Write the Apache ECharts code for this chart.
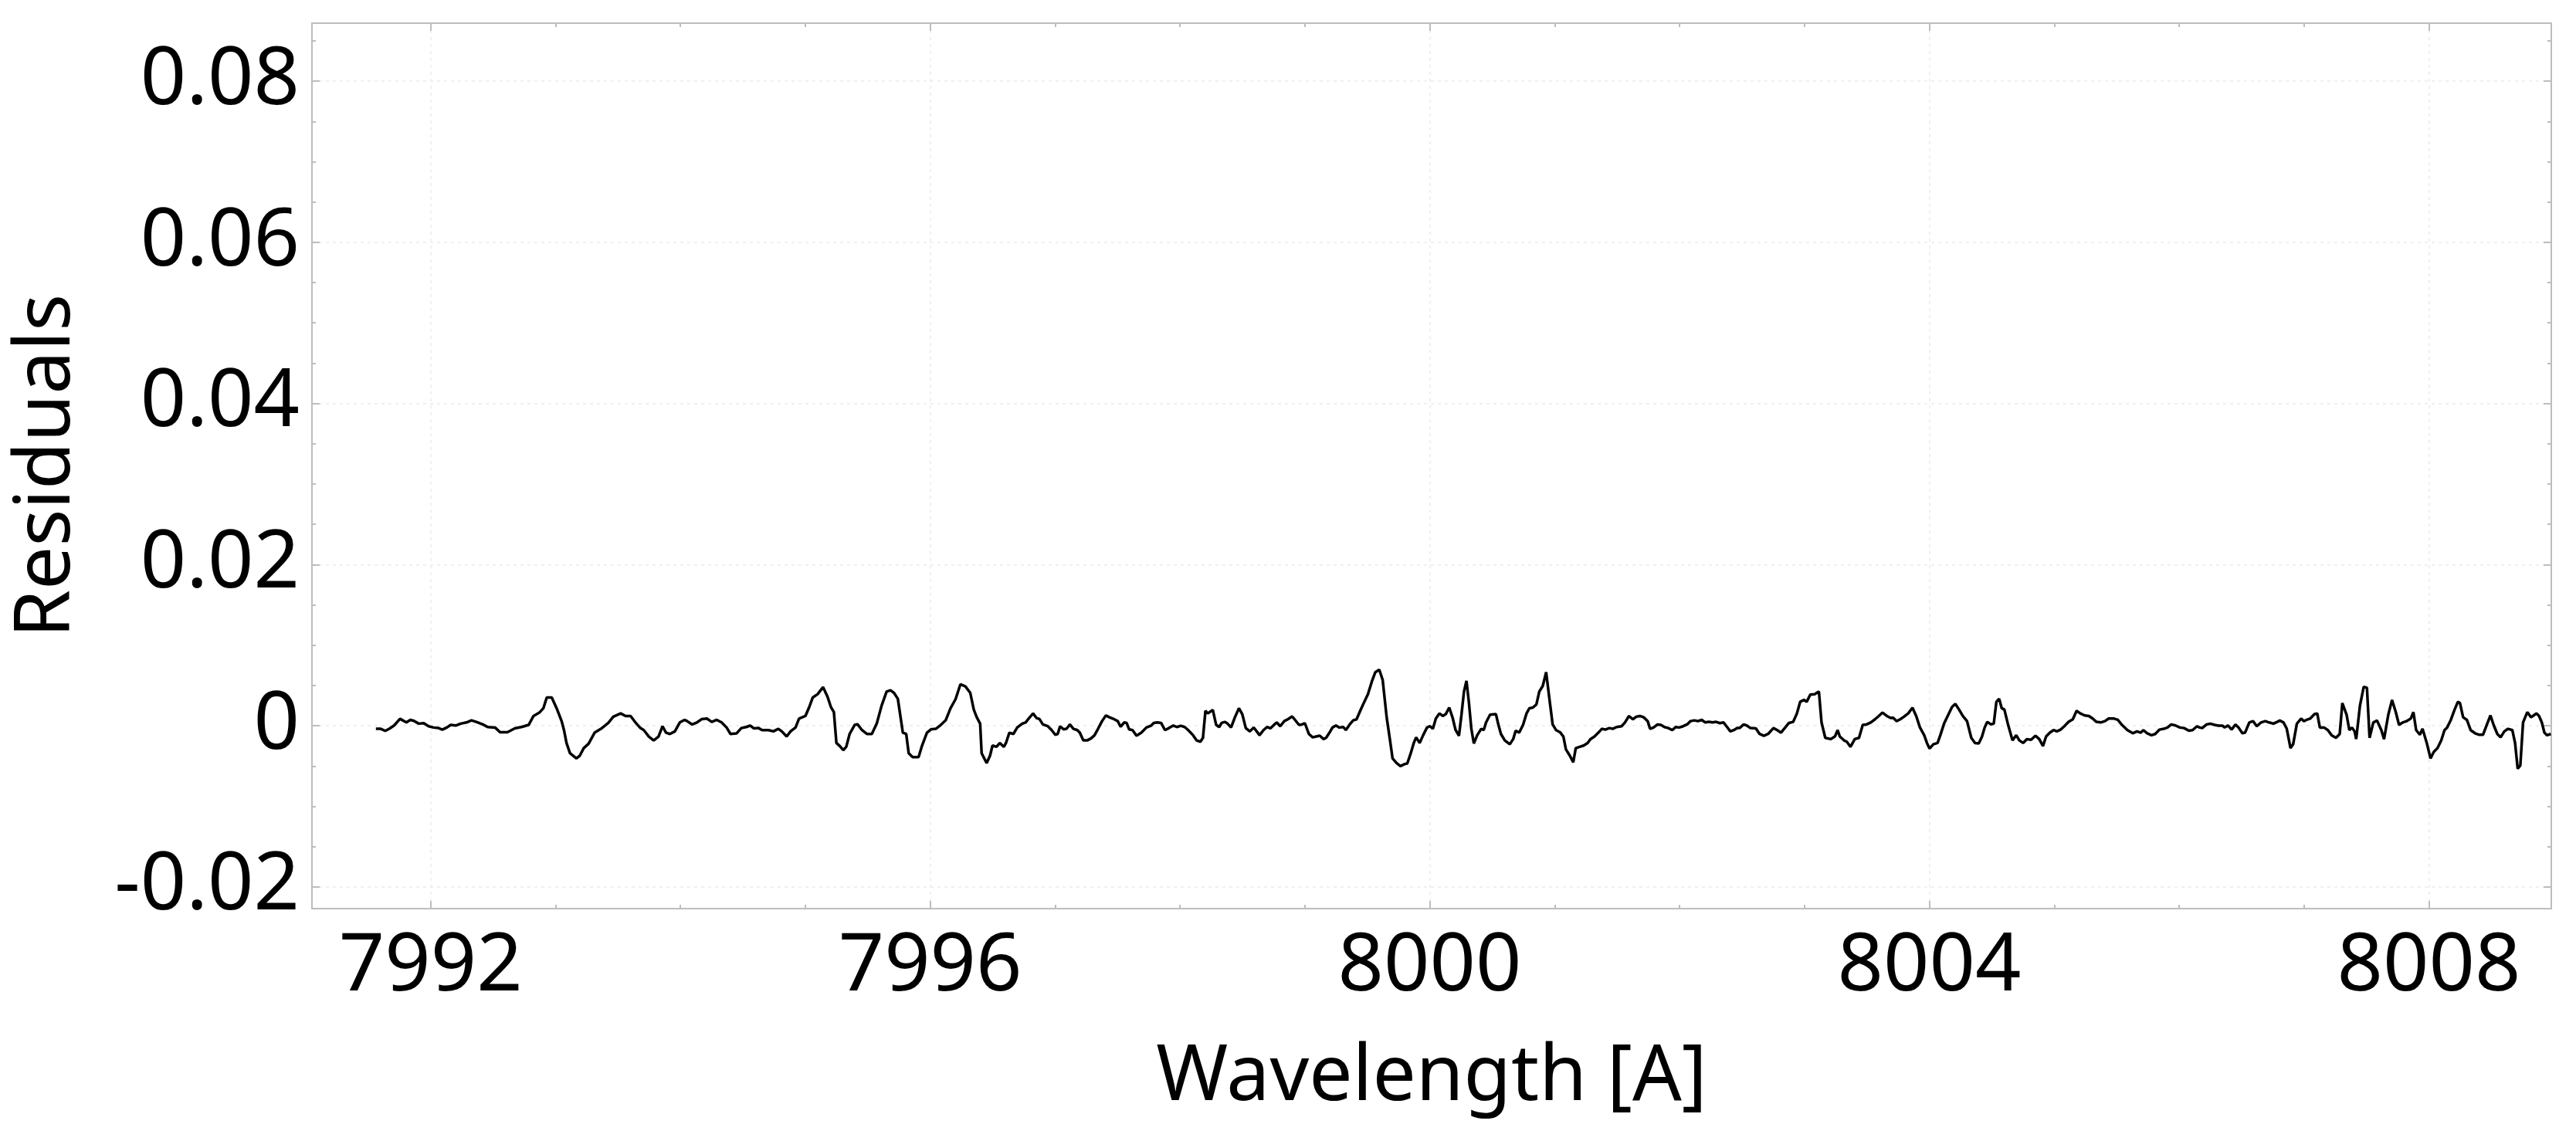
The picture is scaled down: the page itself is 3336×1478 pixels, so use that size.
<!DOCTYPE html>
<html>
<head>
<meta charset="utf-8">
<title>Residuals</title>
<script src="https://cdn.jsdelivr.net/npm/echarts@6/dist/echarts.min.js"></script>
<style>
  html, body { margin: 0; padding: 0; background: #ffffff; }
  #main { width: 3336px; height: 1478px; }
</style>
</head>
<body>
<div id="main"></div>
<script>
// axis ranges and tick positions
const xMin = 7991.05
const xMax = 8008.98
const yMin = -0.0227
const yMax = 0.0872
const xMajor = [7992, 7996, 8000, 8004, 8008]
const xMinor = [7992, 7993, 7994, 7995, 7996, 7997, 7998, 7999, 8000, 8001, 8002, 8003, 8004, 8005, 8006, 8007, 8008]
const yMajor = [-0.02, 0, 0.02, 0.04, 0.06, 0.08]
const yMinor = [-0.02, -0.015, -0.01, -0.005, 0, 0.005, 0.01, 0.015, 0.02, 0.025, 0.03, 0.035, 0.04, 0.045, 0.05, 0.055, 0.06, 0.065, 0.07, 0.075, 0.08, 0.085]

// wavelength [A]
const wavelength = [
  7991.562, 7991.601, 7991.637, 7991.669, 7991.708, 7991.755, 7991.806, 7991.838,
  7991.866, 7991.905, 7991.945, 7991.984, 7992.023, 7992.063, 7992.094, 7992.130,
  7992.161, 7992.201, 7992.240, 7992.288, 7992.327, 7992.366, 7992.418, 7992.457,
  7992.516, 7992.556, 7992.615, 7992.674, 7992.733, 7992.785, 7992.824, 7992.871,
  7992.903, 7992.930, 7992.970, 7993.009, 7993.049, 7993.068, 7993.088, 7993.116,
  7993.167, 7993.194, 7993.226, 7993.265, 7993.313, 7993.364, 7993.423, 7993.463,
  7993.522, 7993.561, 7993.601, 7993.640, 7993.680, 7993.707, 7993.747, 7993.786,
  7993.825, 7993.857, 7993.885, 7993.916, 7993.956, 7993.995, 7994.034, 7994.054,
  7994.094, 7994.133, 7994.172, 7994.212, 7994.251, 7994.291, 7994.330, 7994.370,
  7994.401, 7994.449, 7994.488, 7994.527, 7994.559, 7994.587, 7994.626, 7994.654,
  7994.705, 7994.745, 7994.784, 7994.812, 7994.851, 7994.882, 7994.922, 7994.950,
  7995.001, 7995.032, 7995.060, 7995.099, 7995.142, 7995.178, 7995.205, 7995.229,
  7995.249, 7995.276, 7995.304, 7995.328, 7995.355, 7995.395, 7995.418, 7995.454,
  7995.493, 7995.533, 7995.572, 7995.611, 7995.651, 7995.682, 7995.710, 7995.741,
  7995.781, 7995.808, 7995.828, 7995.860, 7995.907, 7995.935, 7995.974, 7996.006,
  7996.045, 7996.085, 7996.124, 7996.163, 7996.203, 7996.242, 7996.282, 7996.321,
  7996.349, 7996.373, 7996.400, 7996.412, 7996.452, 7996.479, 7996.499, 7996.531,
  7996.558, 7996.590, 7996.607, 7996.634, 7996.666, 7996.697, 7996.737, 7996.764,
  7996.792, 7996.824, 7996.851, 7996.875, 7996.902, 7996.942, 7996.973, 7997.001,
  7997.021, 7997.040, 7997.068, 7997.092, 7997.119, 7997.147, 7997.178, 7997.198,
  7997.226, 7997.257, 7997.289, 7997.316, 7997.344, 7997.376, 7997.407, 7997.435,
  7997.474, 7997.502, 7997.525, 7997.553, 7997.573, 7997.593, 7997.620, 7997.652,
  7997.691, 7997.731, 7997.770, 7997.790, 7997.817, 7997.849, 7997.880, 7997.912,
  7997.947, 7997.975, 7998.007, 7998.038, 7998.066, 7998.105, 7998.133, 7998.164,
  7998.184, 7998.204, 7998.223, 7998.243, 7998.263, 7998.290, 7998.314, 7998.334,
  7998.361, 7998.381, 7998.409, 7998.440, 7998.472, 7998.499, 7998.527, 7998.559,
  7998.590, 7998.618, 7998.637, 7998.669, 7998.697, 7998.724, 7998.756, 7998.775,
  7998.803, 7998.835, 7998.866, 7998.898, 7998.921, 7998.953, 7998.977, 7999.000,
  7999.032, 7999.063, 7999.091, 7999.119, 7999.150, 7999.170, 7999.197, 7999.221,
  7999.249, 7999.276, 7999.308, 7999.328, 7999.359, 7999.387, 7999.414, 7999.446,
  7999.473, 7999.505, 7999.537, 7999.564, 7999.596, 7999.623, 7999.655, 7999.682,
  7999.702, 7999.734, 7999.765, 7999.801, 7999.820, 7999.848, 7999.872, 7999.891,
  7999.919, 7999.947, 7999.978, 8000.002, 8000.025, 8000.049, 8000.077, 8000.104,
  8000.128, 8000.156, 8000.183, 8000.207, 8000.234, 8000.254, 8000.274, 8000.294,
  8000.313, 8000.333, 8000.353, 8000.380, 8000.412, 8000.432, 8000.451, 8000.483,
  8000.530, 8000.550, 8000.570, 8000.601, 8000.641, 8000.668, 8000.688, 8000.716,
  8000.747, 8000.775, 8000.798, 8000.826, 8000.854, 8000.877, 8000.905, 8000.932,
  8000.956, 8000.984, 8001.011, 8001.043, 8001.070, 8001.090, 8001.122, 8001.149,
  8001.169, 8001.201, 8001.232, 8001.264, 8001.287, 8001.319, 8001.350, 8001.378,
  8001.406, 8001.437, 8001.465, 8001.496, 8001.536, 8001.563, 8001.595, 8001.626,
  8001.654, 8001.682, 8001.713, 8001.745, 8001.764, 8001.792, 8001.824, 8001.851,
  8001.879, 8001.910, 8001.942, 8001.969, 8001.997, 8002.029, 8002.060, 8002.088,
  8002.119, 8002.147, 8002.178, 8002.206, 8002.234, 8002.265, 8002.293, 8002.324,
  8002.352, 8002.376, 8002.407, 8002.435, 8002.462, 8002.482, 8002.512, 8002.538,
  8002.568, 8002.611, 8002.641, 8002.675, 8002.709, 8002.752, 8002.782, 8002.812,
  8002.846, 8002.876, 8002.910, 8002.940, 8002.966, 8002.996, 8003.018, 8003.047,
  8003.082, 8003.116, 8003.137, 8003.167, 8003.210, 8003.244, 8003.266, 8003.283,
  8003.317, 8003.339, 8003.369, 8003.403, 8003.437, 8003.467, 8003.497, 8003.531,
  8003.565, 8003.595, 8003.625, 8003.660, 8003.690, 8003.711, 8003.737, 8003.767,
  8003.797, 8003.831, 8003.865, 8003.895, 8003.925, 8003.959, 8003.981, 8004.002,
  8004.032, 8004.066, 8004.088, 8004.118, 8004.152, 8004.182, 8004.208, 8004.238,
  8004.268, 8004.302, 8004.336, 8004.366, 8004.396, 8004.422, 8004.443, 8004.464,
  8004.494, 8004.516, 8004.537, 8004.559, 8004.580, 8004.601, 8004.631, 8004.666,
  8004.696, 8004.721, 8004.751, 8004.781, 8004.815, 8004.850, 8004.880, 8004.910,
  8004.935, 8004.965, 8004.995, 8005.021, 8005.051, 8005.081, 8005.115, 8005.149,
  8005.179, 8005.209, 8005.244, 8005.278, 8005.308, 8005.338, 8005.372, 8005.406,
  8005.436, 8005.479, 8005.509, 8005.543, 8005.586, 8005.629, 8005.663, 8005.693,
  8005.714, 8005.744, 8005.779, 8005.809, 8005.843, 8005.877, 8005.907, 8005.937,
  8005.971, 8006.006, 8006.040, 8006.078, 8006.108, 8006.143, 8006.164, 8006.185,
  8006.220, 8006.250, 8006.284, 8006.314, 8006.348, 8006.365, 8006.391, 8006.421,
  8006.451, 8006.476, 8006.506, 8006.528, 8006.562, 8006.592, 8006.622, 8006.656,
  8006.690, 8006.720, 8006.755, 8006.785, 8006.806, 8006.836, 8006.862, 8006.892,
  8006.913, 8006.943, 8006.977, 8006.999, 8007.020, 8007.050, 8007.084, 8007.106,
  8007.127, 8007.161, 8007.191, 8007.221, 8007.256, 8007.286, 8007.307, 8007.341,
  8007.363, 8007.384, 8007.405, 8007.418, 8007.448, 8007.478, 8007.504, 8007.525,
  8007.555, 8007.585, 8007.619, 8007.641, 8007.675, 8007.705, 8007.735, 8007.761,
  8007.791, 8007.821, 8007.855, 8007.876, 8007.898, 8007.928, 8007.949, 8007.983,
  8008.013, 8008.039, 8008.069, 8008.099, 8008.125, 8008.146, 8008.176, 8008.206,
  8008.232, 8008.249, 8008.274, 8008.304, 8008.334, 8008.369, 8008.403, 8008.433,
  8008.463, 8008.493, 8008.518, 8008.548, 8008.574, 8008.604, 8008.634, 8008.668,
  8008.690, 8008.711, 8008.732, 8008.754, 8008.788, 8008.818, 8008.839, 8008.861,
  8008.882, 8008.904, 8008.925, 8008.946, 8008.976
]

// residuals, same order as wavelength
const residual = [
  -0.00038, -0.00038, -0.00064, -0.00038, 0.00003, 0.00086, 0.00041, 0.00073,
  0.00061, 0.00026, 0.00032, -0.00006, -0.00022, -0.00029, -0.00048, -0.00022,
  0.0001, 0.00003, 0.00026, 0.00041, 0.00067, 0.00048, 0.00016, -0.00016,
  -0.00022, -0.0008, -0.0008, -0.00032, -0.00013, 0.0001, 0.00121, 0.00163,
  0.00217, 0.00351, 0.00351, 0.00217, 0.00057, -0.00054, -0.00214, -0.00341,
  -0.00405, -0.00373, -0.00278, -0.00223, -0.00086, -0.00038, 0.00035, 0.00112,
  0.00153, 0.00121, 0.00121, 0.00041, -0.00029, -0.00054, -0.00134, -0.00182,
  -0.00134, -0.00006, -0.00086, -0.00102, -0.0007, 0.00041, 0.00073, 0.00057,
  0.00016, 0.00041, 0.00083, 0.00089, 0.00048, 0.00073, 0.00041, -0.00022,
  -0.00102, -0.00096, -0.00029, -0.00016, 0.00003, -0.00032, -0.00029, -0.00054,
  -0.00054, -0.0007, -0.00038, -0.0007, -0.00134, -0.0007, -0.00022, 0.00089,
  0.00121, 0.00233, 0.00351, 0.00392, 0.00479, 0.0036, 0.00233, 0.00169,
  -0.00214, -0.00252, -0.00303, -0.00262, -0.00102, 0.0001, 0.00019, -0.00054,
  -0.00102, -0.00102, 0.00026, 0.00249, 0.00424, 0.0044, 0.00408, 0.00335,
  -0.00086, -0.00102, -0.00341, -0.00389, -0.00389, -0.00246, -0.00086, -0.00045,
  -0.00038, 0.0001, 0.00067, 0.00217, 0.00329, 0.00514, 0.00488, 0.00408,
  0.00201, 0.00105, 0.00026, -0.00341, -0.00463, -0.00373, -0.00246, -0.00262,
  -0.00214, -0.00262, -0.00214, -0.00086, -0.00102, -0.00022, 0.00026, 0.00041,
  0.00096, 0.00153, 0.00096, 0.00083, 0.00016, -0.00006, -0.00054, -0.00112,
  -0.00102, -0.00006, -0.00045, -0.00038, 0.00016, -0.00038, -0.00054, -0.00086,
  -0.00182, -0.00182, -0.00156, -0.00118, -0.00038, 0.00057, 0.00128, 0.00105,
  0.0008, 0.00057, -0.00013, 0.00041, 0.00035, -0.00045, -0.00054, -0.00124,
  -0.00086, -0.00022, 0.00003, 0.00035, 0.00041, 0.00035, -0.00054, -0.00029,
  0.00003, -0.00016, 0, -0.00016, -0.00054, -0.00118, -0.00182, -0.00198,
  -0.0015, 0.00185, 0.00153, 0.00175, 0.00195, 0.0001, -0.00016, 0.00035,
  0.00048, 0.00026, -0.00022, 0.00105, 0.00217, 0.00144, -0.00029, -0.0007,
  -0.00022, -0.00077, -0.00118, -0.00054, -0.00016, -0.00032, 0.00016, 0.00041,
  -0.00006, 0.00057, 0.00083, 0.00115, 0.00073, 0.0001, 0.00016, 0.00032,
  -0.00102, -0.00144, -0.00134, -0.00124, -0.00166, -0.0015, -0.00086, -0.00022,
  0.00003, -0.00022, -0.00016, -0.00054, 0.00016, 0.00067, 0.0008, 0.00195,
  0.00287, 0.00392, 0.00552, 0.00664, 0.00695, 0.00568, 0.00105, -0.00182,
  -0.00405, -0.00463, -0.00501, -0.00475, -0.00469, -0.00341, -0.00214, -0.00144,
  -0.00214, -0.00118, -0.00022, -0.00006, -0.00038, 0.00089, 0.00153, 0.00121,
  0.00144, 0.00226, 0.00099, -0.00054, -0.00124, 0.00137, 0.00424, 0.00558,
  0.00297, -0.00038, -0.0022, -0.00118, -0.00038, -0.00054, 0.00041, 0.00137,
  0.00144, 0.0001, -0.00102, -0.00182, -0.0023, -0.00166, -0.00061, -0.00086,
  0.0001, 0.00153, 0.00217, 0.00226, 0.00265, 0.00424, 0.00494, 0.00664,
  0.0036, 0.00016, -0.00054, -0.0008, -0.00134, -0.00293, -0.00373, -0.00453,
  -0.00278, -0.00262, -0.00246, -0.00214, -0.00166, -0.00134, -0.00086, -0.00038,
  -0.00048, -0.00029, -0.00038, -0.00016, -0.00006, 0.00041, 0.00121, 0.0008,
  0.00112, 0.00121, 0.00105, 0.00057, -0.00038, -0.00022, 0.00016, 0.0001,
  -0.00016, -0.00029, -0.00054, -0.00016, -0.00022, -0.00006, 0.00016, 0.00057,
  0.00067, 0.00057, 0.00073, 0.00041, 0.00048, 0.00041, 0.00048, 0.00032,
  0.00041, -0.00006, -0.0007, -0.00054, -0.00029, -0.00029, 0.00016, 0.00003,
  -0.00029, -0.00032, -0.00102, -0.00124, -0.00102, -0.00029, -0.00054, -0.00086,
  -0.00022, 0.00035, 0.00048, 0.00153, 0.00297, 0.00322, 0.00297, 0.00386,
  0.00392, 0.00424, 0.00041, -0.0015, -0.00166, -0.00134, -0.00054, -0.00134,
  -0.00182, -0.00198, -0.00262, -0.00166, -0.0015, 0.0001, 0.00016, 0.00041,
  0.0008, 0.00121, 0.00163, 0.00121, 0.00096, 0.00099, 0.00057, 0.0008,
  0.00112, 0.00153, 0.00223, 0.00121, -0.00022, -0.00118, -0.00214, -0.00284,
  -0.0023, -0.00214, -0.00118, 0.00026, 0.00137, 0.00233, 0.00271, 0.00201,
  0.00121, 0.00057, -0.0015, -0.00214, -0.0022, -0.00134, -0.00022, 0.00048,
  0.00016, 0.00026, 0.00297, 0.00335, 0.00217, 0.00201, 0.0001, -0.00182,
  -0.00118, -0.00182, -0.00214, -0.00166, -0.00175, -0.00124, -0.00166, -0.00252,
  -0.00134, -0.00086, -0.00054, -0.0007, -0.00048, -0.00006, 0.00048, 0.0008,
  0.00185, 0.00153, 0.00128, 0.00121, 0.00089, 0.00048, 0.00041, 0.00057,
  0.00089, 0.00089, 0.00073, 0.0001, -0.00054, -0.00093, -0.0007, -0.00086,
  -0.00054, -0.00093, -0.00118, -0.00102, -0.00048, -0.00038, -0.00022, 0.00016,
  0.00003, -0.00022, -0.00029, -0.00061, -0.00054, -0.00006, -0.00022, -0.00029,
  0.00016, 0.00026, 0.0001, 0, 0, -0.00022, 0.00003, -0.00048,
  0.00016, -0.00022, -0.00093, -0.00086, 0.00041, 0.00057, -0.00006, 0.00041,
  0.00057, 0.00041, 0.00026, 0.00048, 0.00064, 0.00041, -0.00038, -0.00278,
  -0.0023, 0.00026, 0.00089, 0.00057, 0.00073, 0.00089, 0.00144, 0.00153,
  -0.00022, -0.00022, -0.00054, -0.00118, -0.0015, -0.00102, 0.00281, 0.00137,
  -0.00054, -0.00022, -0.0007, -0.00166, 0.00249, 0.00482, 0.00472, -0.0015,
  0.00041, 0.00064, -0.00054, -0.00166, 0.00137, 0.00319, 0.00169, 0.0001,
  0.00041, 0.00057, 0.00089, 0.00169, -0.00054, -0.00112, -0.00038, -0.00214,
  -0.00405, -0.00325, -0.00278, -0.00182, -0.00054, -0.00022, 0.00073, 0.00201,
  0.00297, 0.00281, 0.00105, 0.00073, -0.00054, -0.00093, -0.00112, -0.00112,
  0.0001, 0.00128, 0.0001, -0.00102, -0.00144, -0.0007, -0.00038, -0.00054,
  -0.00214, -0.00533, -0.00494, 0.00041, 0.00169, 0.00105, 0.00128, 0.00153,
  0.00121, 0.00041, -0.00086, -0.00118, -0.00102
]

const points = wavelength.map((w, i) => [w, residual[i]])

const axisGray = '#bdbdbd'
const gridGray = '#ececec'
const fontName = 'Noto Sans'

function boxAxis(pos, ticks, len, isX) {
    return {
        type: 'value',
        position: pos,
        min: isX ? xMin : yMin,
        max: isX ? xMax : yMax,
        axisLine: { show: true, onZero: false, lineStyle: { color: axisGray, width: 2 } },
        axisTick: { show: true, inside: true, length: len, customValues: ticks, lineStyle: { color: axisGray, width: 2 } },
        axisLabel: { show: false },
        splitLine: { show: false }
    }
}

const chart = echarts.init(document.getElementById('main'), null, { renderer: 'canvas' })

chart.setOption({
    animation: false,
    backgroundColor: '#ffffff',
    grid: { left: 404, right: 32, top: 30, bottom: 301, containLabel: false },
    xAxis: [
        {
            type: 'value',
            position: 'bottom',
            min: xMin,
            max: xMax,
            name: 'Wavelength [A]',
            nameLocation: 'middle',
            nameGap: 170,
            nameTextStyle: { fontFamily: fontName, fontSize: 100, color: '#000' },
            axisLine: { show: true, onZero: false, lineStyle: { color: axisGray, width: 2 } },
            axisTick: { show: true, inside: true, length: 10, customValues: xMajor, lineStyle: { color: axisGray, width: 2 } },
            axisLabel: {
                customValues: xMajor,
                margin: 24,
                fontFamily: fontName,
                fontSize: 104,
                color: '#000',
                formatter: v => String(v)
            },
            splitLine: { show: true, lineStyle: { color: gridGray, width: 1.5, type: [4, 5] } }
        },
        boxAxis('bottom', xMinor, 5, true),
        boxAxis('top', xMajor, 10, true),
        boxAxis('top', xMinor, 5, true)
    ],
    yAxis: [
        {
            type: 'value',
            position: 'left',
            min: yMin,
            max: yMax,
            name: 'Residuals',
            nameLocation: 'middle',
            nameGap: 292,
            nameTextStyle: { fontFamily: fontName, fontSize: 100, color: '#000' },
            axisLine: { show: true, onZero: false, lineStyle: { color: axisGray, width: 2 } },
            axisTick: { show: true, inside: true, length: 10, customValues: yMajor, lineStyle: { color: axisGray, width: 2 } },
            axisLabel: {
                customValues: yMajor,
                margin: 16,
                fontFamily: fontName,
                fontSize: 104,
                color: '#000',
                formatter: v => (Math.abs(v) < 1e-9 ? '0' : v.toFixed(2))
            },
            splitLine: { show: true, lineStyle: { color: gridGray, width: 1.5, type: [4, 5] } }
        },
        boxAxis('left', yMinor, 5, false),
        boxAxis('right', yMajor, 10, false),
        boxAxis('right', yMinor, 5, false)
    ],
    series: [
        {
            type: 'line',
            xAxisIndex: 0,
            yAxisIndex: 0,
            data: points,
            showSymbol: false,
            symbol: 'none',
            clip: true,
            lineStyle: { color: '#000000', width: 3.5 }
        }
    ]
})
</script>
</body>
</html>
